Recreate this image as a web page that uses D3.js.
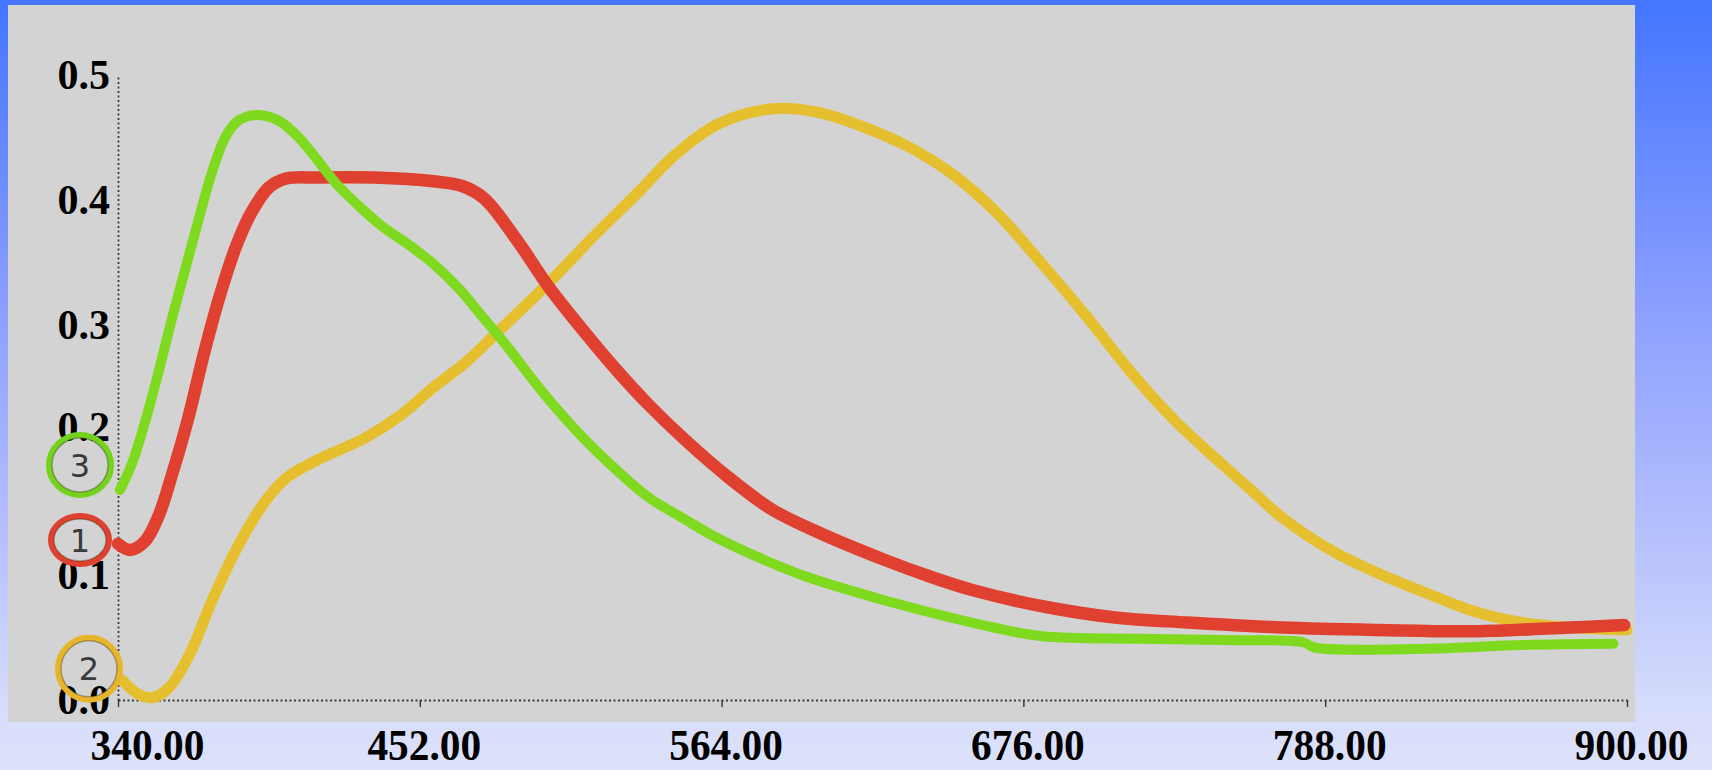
<!DOCTYPE html>
<html>
<head>
<meta charset="utf-8">
<script src="https://cdn.jsdelivr.net/npm/d3@7"></script>
<style>
  html, body { margin: 0; padding: 0; overflow: hidden; }
  svg { display: block; }
</style>
</head>
<body>
<svg id="chart" width="1712" height="770"></svg>
<script>
// Wavelength (nm) and absorbance tick values
const wavelengthTicks = [340, 452, 564, 676, 788, 900];
const absorbanceTicks = [0.0, 0.1, 0.2, 0.3, 0.4, 0.5];

// Absorption spectra: [wavelength nm, absorbance]
const sample1 = [
  [340, 0.125], [344.5, 0.120], [350, 0.127], [355, 0.147], [360, 0.180],
  [366, 0.225], [372, 0.278], [378, 0.325], [384, 0.364], [390, 0.392],
  [396, 0.410], [402, 0.417], [414, 0.418], [435, 0.418], [457, 0.415],
  [468, 0.411], [476, 0.401], [488, 0.368], [500, 0.330], [512.5, 0.296],
  [525, 0.264], [537, 0.236], [550, 0.209], [566.6, 0.178], [583, 0.152],
  [600, 0.134], [624.6, 0.112], [641, 0.099], [657, 0.088], [683, 0.075],
  [710, 0.066], [737, 0.062], [772, 0.058], [808, 0.056], [843, 0.055],
  [879, 0.058], [899, 0.060]
];
const sample2 = [
  [341.5, 0.016], [348, 0.004], [353, 0.002], [359, 0.010], [366.7, 0.037],
  [375, 0.080], [385, 0.125], [395, 0.160], [402.7, 0.178], [414, 0.192],
  [432, 0.210], [445, 0.228], [457, 0.250], [469, 0.270], [481.7, 0.296],
  [500, 0.334], [517, 0.372], [533, 0.406], [546.7, 0.436], [563, 0.461],
  [583, 0.473], [600, 0.470], [616, 0.459], [633, 0.443], [649.5, 0.421],
  [666, 0.390], [682.5, 0.350], [699, 0.308], [716, 0.262], [732, 0.224],
  [749, 0.190], [760, 0.169], [772, 0.146], [790, 0.120], [808, 0.101],
  [825, 0.086], [843, 0.071], [861, 0.062], [879, 0.058], [900, 0.056]
];
const sample3 = [
  [340.7, 0.168], [345, 0.188], [350, 0.222], [355, 0.262], [360, 0.305],
  [365, 0.345], [370, 0.385], [375, 0.423], [380, 0.451], [385, 0.464],
  [392, 0.468], [400, 0.463], [407.5, 0.449], [414, 0.432], [421, 0.413],
  [430, 0.394], [438, 0.379], [448, 0.364], [457, 0.349], [467, 0.328],
  [475.5, 0.306], [484, 0.284], [494, 0.256], [500, 0.240], [512.5, 0.210],
  [525, 0.184], [537, 0.162], [550, 0.145], [562, 0.130], [581, 0.111],
  [595, 0.099], [624, 0.080], [649, 0.066], [665, 0.058], [683, 0.051],
  [719, 0.049], [750, 0.048], [780, 0.046], [784, 0.042], [825, 0.041],
  [861, 0.044], [895, 0.045]
];

// Circled sample numbers beside the absorbance axis, and the level each one marks
const sampleNames = ["1", "2", "3"];
const tagLevels = [0.128, 0.025, 0.188];

const W = 1712, H = 770;
const svg = d3.select("#chart");

// Backdrop: vertical blue fade
const defs = svg.append("defs");
const grad = defs.append("linearGradient")
  .attr("id", "backdrop").attr("x1", 0).attr("y1", 0).attr("x2", 0).attr("y2", 1);
[[0, "#4375ff"], [0.39, "#8a9eff"], [0.7, "#b6c1fd"], [0.92, "#d6dcfb"], [1, "#dde2fa"]]
  .forEach(([o, c]) => grad.append("stop").attr("offset", o).attr("stop-color", c));

svg.append("rect").attr("width", W).attr("height", H).attr("fill", "url(#backdrop)");

// Paper sheet
svg.append("rect")
  .attr("x", 8).attr("y", 5).attr("width", 1627).attr("height", 717)
  .attr("fill", "#d3d3d3");

const x = d3.scaleLinear().domain([340, 900]).range([118, 1627]);
const y = d3.scaleLinear().domain([0, 0.5]).range([700, 75]);

const serif = "'Liberation Serif', 'Times New Roman', serif";

// Wavelength axis
const xAxis = svg.append("g")
  .attr("transform", `translate(0,${y(0)})`)
  .call(d3.axisBottom(x)
    .tickValues(wavelengthTicks)
    .tickFormat(d3.format(".2f"))
    .tickSizeInner(7).tickSizeOuter(0).tickPadding(0));
xAxis.select(".domain")
  .attr("stroke", "#3a3a3a").attr("stroke-width", 1.8).attr("stroke-dasharray", "2 2.5");
xAxis.selectAll(".tick line").attr("stroke", "#333").attr("stroke-width", 1.4);
xAxis.selectAll(".tick text")
  .attr("font-family", serif).attr("font-weight", "bold").attr("font-size", 45)
  .attr("fill", "#000")
  .attr("y", 60).attr("dy", 0)
  .attr("transform", "scale(0.92,1)")
  .attr("x", (d, i) => (i === 0 ? 29 : 4) / 0.92);

// Absorbance axis
const yAxis = svg.append("g")
  .attr("transform", `translate(${x(340)},0)`)
  .call(d3.axisLeft(y)
    .tickValues(absorbanceTicks)
    .tickFormat(d3.format(".1f"))
    .tickSize(0).tickPadding(8));
yAxis.select(".domain")
  .attr("stroke", "#3a3a3a").attr("stroke-width", 1.8).attr("stroke-dasharray", "2 2.5");
yAxis.selectAll(".tick text")
  .attr("font-family", serif).attr("font-weight", "bold").attr("font-size", 42)
  .attr("fill", "#000")
  .attr("dy", d => (d === 0.2 ? "-0.22em" : "0.33em"));

// Spectra, drawn back to front
const line = d3.line()
  .x(d => x(d[0]))
  .y(d => y(d[1]))
  .curve(d3.curveCatmullRom.alpha(0.5));

const spectra = [
  { data: sample2, color: "#e6bf2e", width: 11 },
  { data: sample1, color: "#e0402f", width: 12.5 },
  { data: sample3, color: "#7fda1f", width: 10 }
];
svg.append("g").selectAll("path")
  .data(spectra)
  .join("path")
  .attr("d", d => line(d.data))
  .attr("fill", "none")
  .attr("stroke", d => d.color)
  .attr("stroke-width", d => d.width)
  .attr("stroke-linecap", "round")
  .attr("stroke-linejoin", "round");

// Circled sample numbers
const tagLook = [
  { color: "#e0402f", dx: -38, rx: 29, ry: 24 },
  { color: "#e6b52c", dx: -29, rx: 31, ry: 31 },
  { color: "#72d21c", dx: -38, rx: 31, ry: 30 }
];
const tags = svg.append("g").selectAll("g")
  .data(sampleNames.map((name, i) => ({ name, level: tagLevels[i], look: tagLook[i] })))
  .join("g")
  .attr("transform", d => `translate(${x(340) + d.look.dx},${y(d.level)})`);
tags.append("ellipse")
  .attr("rx", d => d.look.rx).attr("ry", d => d.look.ry)
  .attr("fill", "none").attr("stroke", d => d.look.color).attr("stroke-width", 6);
tags.append("ellipse")
  .attr("rx", d => d.look.rx - 3).attr("ry", d => d.look.ry - 3)
  .attr("fill", "none").attr("stroke", "#3a2a10").attr("stroke-opacity", 0.35).attr("stroke-width", 1.5);
tags.append("text")
  .text(d => d.name)
  .attr("text-anchor", "middle").attr("dy", "0.36em")
  .attr("font-family", "'DejaVu Sans', sans-serif").attr("font-size", 32)
  .attr("fill", "#3a3a3a");
</script>
</body>
</html>
